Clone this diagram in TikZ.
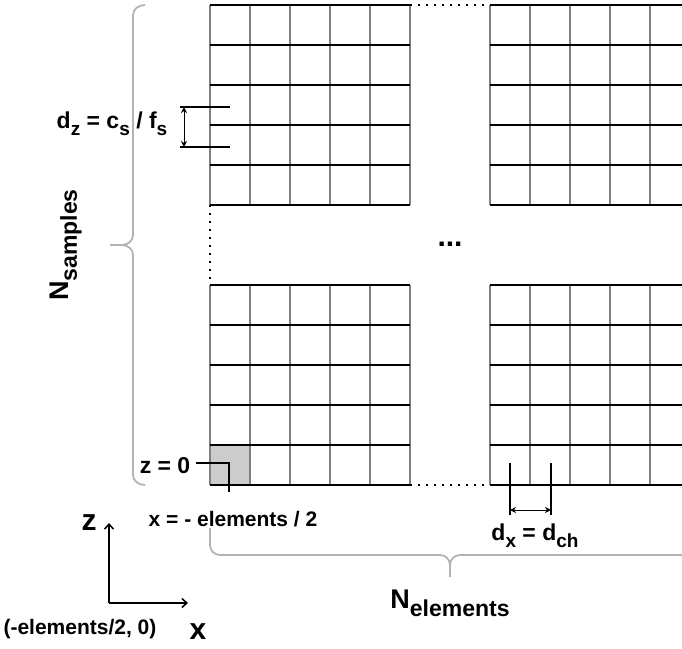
\documentclass[tikz,border=0pt]{standalone}
\usepackage{fontspec}
\setmainfont{Liberation Sans}
\usetikzlibrary{arrows.meta, positioning}
\definecolor{klammergrau}{HTML}{B3B3B3}
\definecolor{gittergrau}{HTML}{808080}
\definecolor{zelle}{HTML}{CCCCCC}
% tiefgestellter Text (wie Index)
\newcommand{\subtxt}[2][19]{\raisebox{-0.3em}{\fontsize{#1}{#1}\selectfont #2}}

\begin{document}
\begin{tikzpicture}[x=1pt, y=-1pt,
    lbl/.style={font=\fontsize{21}{24}\selectfont\bfseries, inner sep=0pt},
    mlbl/.style={font=\fontsize{23}{26}\selectfont\bfseries, inner sep=0pt},
    nlbl/.style={font=\fontsize{27}{30}\selectfont\bfseries, inner sep=0pt},
    achslbl/.style={font=\fontsize{30}{32}\selectfont\bfseries, inner sep=0pt},
    zeile/.style={black, line width=1.3pt},
    spalte/.style={gittergrau, line width=1.8pt},
    punkte/.style={black, line width=1.5pt, dash pattern=on 1.5pt off 6.5pt},
    klammer/.style={klammergrau, line width=1.8pt},
    mass/.style={black, line width=1.6pt},
    pfeil/.style={black, line width=1pt, {Stealth[length=6pt,width=6pt]}-{Stealth[length=6pt,width=6pt]}},
    achse/.style={black, line width=1.5pt, -{Straight Barb[length=5pt,width=9pt]}}]
  \useasboundingbox (0,0) rectangle (682,648);
  \begin{scope}
    \clip (0,0) rectangle (682,648);

    % --- Ursprungszelle ---
    \fill[zelle] (210,445) rectangle (250,485);

    % --- vier Gitterbloecke ---
    \foreach \gx/\gy in {210/5, 490/5, 210/285, 490/285} {
      \foreach \i in {0,...,5}
        \draw[spalte] (\gx+40*\i,\gy) -- (\gx+40*\i,\gy+200);
      \foreach \i in {0,...,5}
        \draw[zeile] (\gx,\gy+40*\i) -- (\gx+200,\gy+40*\i);
    }

    % --- Auslassungen zwischen den Bloecken ---
    \draw[punkte] (410,5) -- (490,5);
    \draw[punkte] (210,205) -- (210,285);
    \draw[punkte] (410,485) -- (490,485);
    \node[font=\fontsize{30}{30}\selectfont\bfseries, inner sep=0pt] (dots) at (450,244) {...};

    % --- Klammern ---
    \draw[klammer] (145,5) to[out=180,in=90] (133,15) -- (133,235)
      to[out=-90,in=0] (122,245) -- (110,245);
    \draw[klammer] (122,245) to[out=0,in=90] (133,255) -- (133,475)
      to[out=-90,in=180] (145,485);
    \draw[klammer] (210,528) -- (210,545) to[out=-90,in=180] (220,555) -- (440,555)
      to[out=0,in=90] (450,565) -- (450,577);
    \draw[klammer] (450,565) to[out=90,in=180] (460,555) -- (690,555);
  \end{scope}

  % --- Beschriftungen ---
  \node[nlbl, rotate=90] (nsamples) at (66,245) {N\subtxt[23]{samples}};
  \node[nlbl] (nelements) at (450,603) {N\subtxt[23]{elements}};
  \node[mlbl] (dz) at (112,124) {d\subtxt{z} = c\subtxt{s} / f\subtxt{s}};
  \node[mlbl] (znull) at (165,466) {z = 0};
  \node[lbl] (xnull) at (233,519) {x = - elements / 2};
  \node[mlbl] (dx) at (535,536) {d\subtxt{x} = d\subtxt{ch}};
  \node[lbl] (ursprungtxt) at (80,629) {(-elements/2, 0)};
  \node[achslbl] (zlbl) at (89,523) {z};
  \node[achslbl] (xlbl) at (198,632) {x};

  % --- Abstand d_z ---
  \coordinate (dzoben) at (184,107);
  \coordinate (dzunten) at (184,147);
  \draw[mass] (180,107) -- (230,107);
  \draw[mass] (180,147) -- (230,147);
  \draw[pfeil] (dzoben) -- (dzunten);

  % --- Abstand d_x ---
  \coordinate (dxlinks) at (510,510);
  \coordinate (dxrechts) at (551,510);
  \draw[mass] (510,463) -- (510,515);
  \draw[mass] (551,463) -- (551,515);
  \draw[pfeil] (dxlinks) -- (dxrechts);

  % --- Hinweis auf z = 0 ---
  \coordinate (znullende) at (229,492);
  \draw[mass] ([shift={(6,-3)}]znull.east) -| (znullende);

  % --- Achsen ---
  \coordinate (ursprung) at (109,603);
  \coordinate (zspitze) at (109,523);
  \coordinate (xspitze) at (188,603);
  \draw[achse] (ursprung) -- (zspitze);
  \draw[achse] (ursprung) -- (xspitze);
\end{tikzpicture}
\end{document}
